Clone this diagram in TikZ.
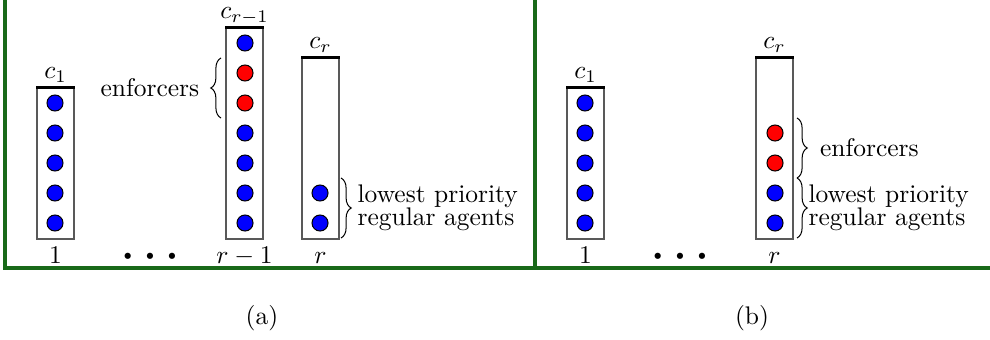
\documentclass[tikz,border=0pt]{standalone}
\usetikzlibrary{positioning,fit,decorations.pathreplacing}

\definecolor{framegreen}{RGB}{25,105,25}

\tikzset{
  agent/.style={circle,draw=black,line width=0.4pt,fill=blue,minimum size=6.3pt,inner sep=0pt},
  enforcer/.style={agent,fill=red},
  column/.style={draw=black!65,line width=0.6pt,inner sep=0pt},
  topbar/.style={line width=1.3pt},
  collabel/.style={above=0pt of #1,text depth=0pt},
  brace/.style={decorate,decoration={brace,amplitude=4pt}},
  frame/.style={framegreen,line width=1.2pt}
}

\begin{document}
\begin{tikzpicture}[x=0.0138cm,y=-0.0138cm]
\useasboundingbox (0,0) rectangle (990,339);
% frame of the two panels
\draw[frame] (5,0) -- (5,268) -- (990,268);
\draw[frame] (535,0) -- (535,268);
\coordinate (lblline) at (0,263);

% (a): columns 1, r-1 and r
\node[column,fit={(37,88) (74,239)}] (a-c1) {};
\node[column,fit={(226,28) (263,239)}] (a-cr1) {};
\node[column,fit={(302,58) (339,239)}] (a-cr) {};
\foreach \c in {a-c1,a-cr1,a-cr}
  \draw[topbar] (\c.north west) -- (\c.north east);
\foreach \i in {1,...,5}
  \node[agent] (a-c1-\i) at (55,{223-30*(\i-1)}) {};
\foreach \i/\s in {1/agent,2/agent,3/agent,4/agent,5/enforcer,6/enforcer,7/agent}
  \node[\s] (a-cr1-\i) at (245,{223-30*(\i-1)}) {};
\foreach \i in {1,2}
  \node[agent] (a-cr-\i) at (320,{223-30*(\i-1)}) {};
\node[collabel=a-c1] (a-c1-name) {$c_1$};
\node[collabel=a-cr1] (a-cr1-name) {$c_{r-1}$};
\node[collabel=a-cr] (a-cr-name) {$c_r$};
\node[anchor=base] (a-c1-idx) at (a-c1.south |- lblline) {$1$};
\node[anchor=base] (a-cr1-idx) at (a-cr1.south |- lblline) {$r-1$};
\node[anchor=base] (a-cr-idx) at (a-cr.south |- lblline) {$r$};
\node[font=\tiny] (a-dots) at (150,256) {$\bullet$\hspace{5pt}$\bullet$\hspace{5pt}$\bullet$};
% braces
\draw[brace] (221,118) -- (221,58) node[midway,left=5pt] (a-enf) {enforcers};
\draw[brace] (341,178) -- (341,238)
  node[midway,right=3pt,align=left] (a-low) {lowest priority\\[-3pt]regular agents};

% (b): columns 1 and r
\node[column,fit={(567,88) (604,239)}] (b-c1) {};
\node[column,fit={(756,58) (793,239)}] (b-cr) {};
\foreach \c in {b-c1,b-cr}
  \draw[topbar] (\c.north west) -- (\c.north east);
\foreach \i in {1,...,5}
  \node[agent] (b-c1-\i) at (585,{223-30*(\i-1)}) {};
\foreach \i/\s in {1/agent,2/agent,3/enforcer,4/enforcer}
  \node[\s] (b-cr-\i) at (775,{223-30*(\i-1)}) {};
\node[collabel=b-c1] (b-c1-name) {$c_1$};
\node[collabel=b-cr] (b-cr-name) {$c_r$};
\node[anchor=base] (b-c1-idx) at (b-c1.south |- lblline) {$1$};
\node[anchor=base] (b-cr-idx) at (b-cr.south |- lblline) {$r$};
\node[font=\tiny] (b-dots) at (680,256) {$\bullet$\hspace{5pt}$\bullet$\hspace{5pt}$\bullet$};
% braces
\draw[brace] (797,118) -- (797,178) node[midway,right=5.5pt] (b-enf) {enforcers};
\draw[brace] (797,178) -- (797,238)
  node[midway,right=1pt,align=left] (b-low) {lowest priority\\[-3pt]regular agents};

% captions
\node (cap-a) at (262,318) {(a)};
\node (cap-b) at (752,318) {(b)};
\end{tikzpicture}
\end{document}
